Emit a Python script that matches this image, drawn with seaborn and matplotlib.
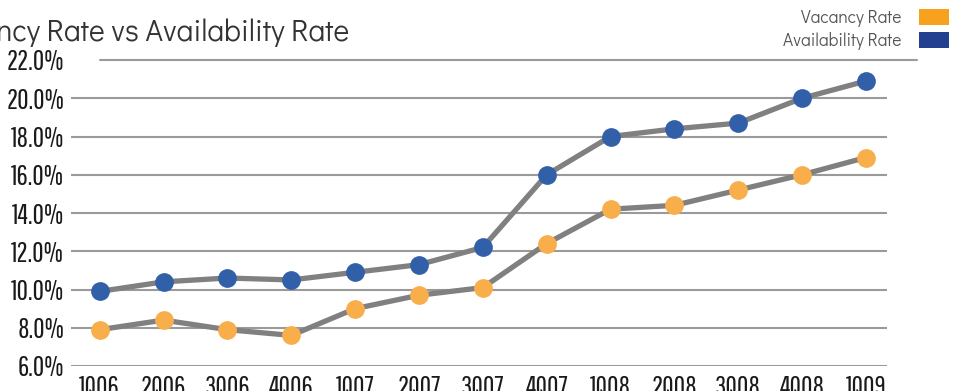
import matplotlib
matplotlib.use('Agg')
import matplotlib.pyplot as plt
from matplotlib.lines import Line2D
from matplotlib.patches import Patch
import seaborn as sns
import pandas as pd

# Data
quarters = ['1Q06', '2Q06', '3Q06', '4Q06', '1Q07', '2Q07', '3Q07',
            '4Q07', '1Q08', '2Q08', '3Q08', '4Q08', '1Q09']
vacancy_rate = [7.9, 8.4, 7.9, 7.6, 9.0, 9.7, 10.1,
                12.4, 14.2, 14.4, 15.2, 16.0, 16.9]
availability_rate = [9.9, 10.4, 10.6, 10.5, 10.9, 11.3, 12.2,
                     16.0, 18.0, 18.4, 18.7, 20.0, 20.9]
y_ticks = [6, 8, 10, 12, 14, 16, 18, 20, 22]

df = pd.DataFrame({'quarter': quarters,
                   'Vacancy Rate': vacancy_rate,
                   'Availability Rate': availability_rate})

sns.set_style('white')
tick_font = ['Pathway Gothic One', 'DejaVu Sans']
text_font = ['Didact Gothic', 'DejaVu Sans']

fig = plt.figure(figsize=(9.58, 3.91), dpi=100)
ax = fig.add_axes([71 / 958, 25 / 391, 816 / 958, 306 / 391])

line_gray = '#808080'
marker_colors = {'Availability Rate': '#3160a8', 'Vacancy Rate': '#f9ae4c'}
for col in ['Availability Rate', 'Vacancy Rate']:
    sns.lineplot(data=df, x='quarter', y=col, sort=False, ax=ax,
                 color=line_gray, linewidth=3.8, marker='o', markersize=13.5,
                 markerfacecolor=marker_colors[col], markeredgewidth=0,
                 zorder=3)

ax.set_xlim(-0.45, 12.33)
ax.set_ylim(6, 22)
ax.set_yticks(y_ticks)
ax.set_yticklabels([f'{v:.1f}%' for v in y_ticks])
ax.set_xlabel('')
ax.set_ylabel('')
ax.grid(axis='y', color='#9a9a9a', linewidth=1.5)
ax.grid(axis='x', visible=False)
ax.set_axisbelow(True)
ax.get_ygridlines()[-1].set_visible(False)
for s in ax.spines.values():
    s.set_visible(False)
ax.tick_params(axis='both', length=0, colors='#1a1a1a')
ax.tick_params(axis='y', pad=5)
ax.tick_params(axis='x', pad=6)
for lab in ax.get_yticklabels() + ax.get_xticklabels():
    lab.set_fontfamily(tick_font)
    lab.set_fontsize(20)
    lab.set_fontweight('bold')

# top rule (22%) runs from under the title to under the legend
ax.add_line(Line2D([(100 - 71) / 816, (917 - 71) / 816], [22, 22],
                   transform=ax.get_yaxis_transform(), color='#9a9a9a',
                   linewidth=1.5, clip_on=False))

fig.text(349 / 958, 1 - 41 / 391, 'Vacancy Rate vs Availability Rate',
         ha='right', va='baseline', fontsize=21.5, color='#333333',
         family=text_font)

handles = [Patch(facecolor='#f7a11f', edgecolor='none'),
           Patch(facecolor='#233f8f', edgecolor='none')]
ax.legend(handles, ['Vacancy Rate', 'Availability Rate'],
          loc='upper right', bbox_to_anchor=(949 / 958, 1 - 9 / 391),
          bbox_transform=fig.transFigure, frameon=False, markerfirst=False,
          handlelength=1.75, handleheight=1.05, handletextpad=1.0,
          labelspacing=0.3, borderaxespad=0, borderpad=0,
          prop={'family': text_font, 'size': 12.5}, labelcolor='#555555')

fig.savefig('out.png', dpi=100)
